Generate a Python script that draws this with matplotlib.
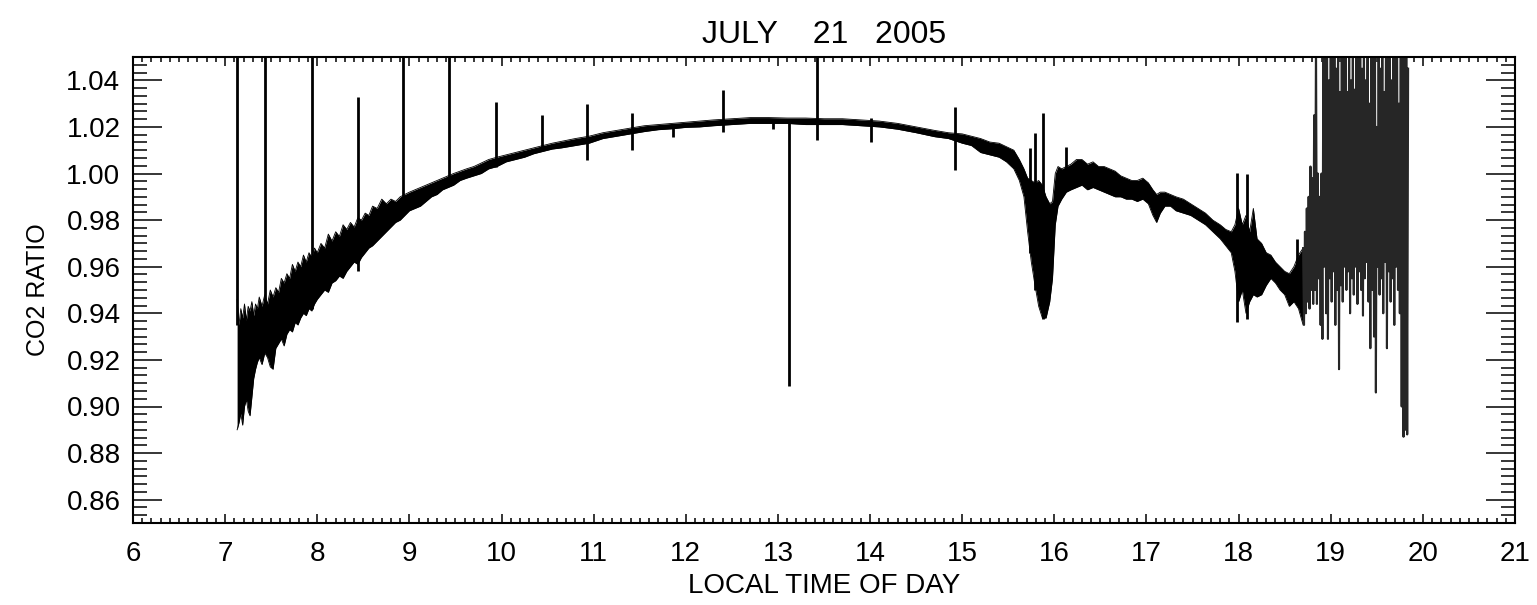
import numpy as np
import matplotlib
matplotlib.use('Agg')
import matplotlib.pyplot as plt
from matplotlib.ticker import MultipleLocator, AutoMinorLocator, FormatStrFormatter

plt.rcParams['font.family'] = ['Liberation Sans', 'DejaVu Sans']

# band of the CO2 ratio (lower / upper edge), 7:08 to 18:42
t_env = [7.13, 7.15, 7.17, 7.19, 7.21, 7.23, 7.25, 7.27, 7.29, 7.31, 7.33, 7.35, 7.37, 7.40,
         7.43, 7.46, 7.49, 7.52, 7.55, 7.58, 7.61, 7.64, 7.67, 7.70, 7.73, 7.76, 7.79, 7.82,
         7.85, 7.88, 7.91, 7.94, 7.97, 8.00, 8.04, 8.08, 8.12, 8.16, 8.20, 8.24, 8.28, 8.32,
         8.36, 8.40, 8.44, 8.48, 8.52, 8.56, 8.60, 8.65, 8.70, 8.75, 8.80, 8.85, 8.90, 8.95,
         9.00, 9.06, 9.12, 9.18, 9.24, 9.30, 9.36, 9.42, 9.48, 9.55, 9.62, 9.70, 9.78, 9.86,
         9.95, 10.05, 10.15, 10.25, 10.35, 10.45, 10.55, 10.65, 10.80, 10.95, 11.10, 11.25,
         11.40, 11.55, 11.70, 11.85, 12.00, 12.15, 12.30, 12.50, 12.70, 12.90, 13.10, 13.30,
         13.50, 13.70, 13.90, 14.10, 14.30, 14.50, 14.70, 14.85, 15.00, 15.10, 15.20, 15.30,
         15.40, 15.48, 15.56, 15.62, 15.67, 15.71, 15.75, 15.79, 15.83, 15.87, 15.91, 15.95,
         15.98, 16.01, 16.04, 16.08, 16.13, 16.18, 16.24, 16.30, 16.36, 16.42, 16.48, 16.54,
         16.60, 16.66, 16.72, 16.78, 16.84, 16.90, 16.96, 17.02, 17.07, 17.11, 17.15, 17.20,
         17.26, 17.32, 17.40, 17.48, 17.56, 17.64, 17.72, 17.80, 17.86, 17.92, 17.96, 18.00,
         18.04, 18.08, 18.12, 18.16, 18.20, 18.25, 18.30, 18.35, 18.40, 18.45, 18.50, 18.55,
         18.60, 18.65, 18.70]
lo_env = [0.890, 0.893, 0.897, 0.892, 0.900, 0.903, 0.898, 0.896, 0.904, 0.912, 0.916, 0.919, 0.921, 0.918,
          0.923, 0.921, 0.917, 0.916, 0.925, 0.927, 0.929, 0.926, 0.931, 0.933, 0.932, 0.936, 0.935, 0.938,
          0.940, 0.939, 0.942, 0.941, 0.944, 0.946, 0.948, 0.950, 0.949, 0.953, 0.954, 0.956, 0.955, 0.958,
          0.960, 0.962, 0.961, 0.964, 0.966, 0.968, 0.969, 0.971, 0.973, 0.975, 0.977, 0.979, 0.980, 0.982,
          0.984, 0.985, 0.986, 0.988, 0.990, 0.991, 0.993, 0.994, 0.995, 0.997, 0.998, 0.999, 1.000, 1.002,
          1.003, 1.005, 1.006, 1.007, 1.0085, 1.0095, 1.0105, 1.011, 1.012, 1.013, 1.015, 1.016,
          1.017, 1.018, 1.0188, 1.0192, 1.0198, 1.020, 1.0205, 1.021, 1.0215, 1.0215, 1.0215, 1.021,
          1.021, 1.021, 1.0205, 1.020, 1.019, 1.0175, 1.0158, 1.015, 1.013, 1.012, 1.009, 1.008,
          1.007, 1.005, 1.002, 0.997, 0.990, 0.975, 0.962, 0.952, 0.943, 0.938, 0.938, 0.945,
          0.955, 0.978, 0.986, 0.989, 0.992, 0.993, 0.994, 0.995, 0.993, 0.994, 0.993, 0.992,
          0.991, 0.990, 0.990, 0.989, 0.989, 0.988, 0.989, 0.987, 0.982, 0.979, 0.983, 0.986,
          0.986, 0.984, 0.983, 0.982, 0.980, 0.978, 0.975, 0.972, 0.969, 0.966, 0.958, 0.945,
          0.950, 0.940, 0.945, 0.948, 0.947, 0.948, 0.952, 0.955, 0.953, 0.950, 0.948, 0.943,
          0.945, 0.942, 0.935]
hi_env = [0.946, 0.935, 0.942, 0.938, 0.944, 0.937, 0.943, 0.941, 0.945, 0.939, 0.944, 0.942, 0.947, 0.943,
          0.948, 0.944, 0.950, 0.947, 0.951, 0.949, 0.955, 0.953, 0.957, 0.955, 0.961, 0.958, 0.962, 0.960,
          0.965, 0.962, 0.966, 0.964, 0.968, 0.966, 0.970, 0.968, 0.974, 0.971, 0.975, 0.973, 0.978, 0.976,
          0.979, 0.977, 0.981, 0.980, 0.983, 0.982, 0.986, 0.985, 0.989, 0.987, 0.989, 0.988, 0.990, 0.991,
          0.992, 0.993, 0.994, 0.995, 0.996, 0.997, 0.998, 0.999, 1.000, 1.001, 1.002, 1.003, 1.0045, 1.006,
          1.007, 1.008, 1.009, 1.010, 1.011, 1.012, 1.013, 1.0138, 1.015, 1.016, 1.0175, 1.0185,
          1.0195, 1.0205, 1.021, 1.0215, 1.022, 1.0225, 1.023, 1.0235, 1.024, 1.024, 1.0238, 1.0238,
          1.0235, 1.0235, 1.023, 1.0225, 1.0215, 1.020, 1.0185, 1.0175, 1.017, 1.016, 1.015, 1.0135,
          1.013, 1.0115, 1.010, 1.006, 1.002, 0.998, 0.997, 0.996, 0.997, 0.995, 0.990, 0.987,
          0.988, 1.000, 1.003, 1.002, 1.003, 1.004, 1.006, 1.006, 1.004, 1.005, 1.003, 1.003,
          1.002, 1.001, 0.999, 0.998, 0.997, 0.997, 0.998, 0.996, 0.993, 0.991, 0.992, 0.992,
          0.991, 0.990, 0.989, 0.987, 0.985, 0.983, 0.980, 0.978, 0.976, 0.975, 0.978, 0.985,
          0.978, 0.982, 0.975, 0.985, 0.972, 0.970, 0.966, 0.965, 0.962, 0.960, 0.958, 0.957,
          0.960, 0.965, 0.968]

# single-sample spikes (time, low end, high end)
spike_t = [7.125, 7.43, 7.94, 8.44, 8.93, 9.43, 9.94, 10.44, 10.93, 11.42, 11.86, 12.40, 12.95,
           13.12, 13.42, 14.01, 14.92, 15.74, 15.79, 15.88, 16.13, 17.98, 18.09, 18.63]
spike_lo = [0.935, 0.940, 0.942, 0.958, 0.985, 0.995, 1.003, 1.010, 1.006, 1.010, 1.0157, 1.018, 1.019,
            0.9087, 1.0144, 1.0136, 1.0016, 0.966, 0.950, 0.9377, 0.993, 0.9364, 0.9377, 0.944]
spike_hi = [1.06, 1.06, 1.06, 1.033, 1.06, 1.06, 1.0305, 1.025, 1.030, 1.026, 1.021, 1.0357, 1.023,
            1.023, 1.06, 1.024, 1.0285, 1.011, 1.0174, 1.0259, 1.0114, 1.0003, 1.000, 0.972]

# noisy stretch at dusk, 18:42 to 19:50
burst_t = [18.70, 18.71, 18.72, 18.73, 18.74, 18.75, 18.76, 18.77, 18.78, 18.79, 18.80, 18.81,
           18.82, 18.83, 18.84, 18.85, 18.86, 18.87, 18.88, 18.89, 18.90, 18.91, 18.92, 18.93,
           18.94, 18.95, 18.96, 18.97, 18.98, 18.99, 19.00, 19.01, 19.02, 19.03, 19.04, 19.05,
           19.06, 19.07, 19.08, 19.09, 19.10, 19.11, 19.12, 19.13, 19.14, 19.15, 19.16, 19.17,
           19.18, 19.19, 19.20, 19.21, 19.22, 19.23, 19.24, 19.25, 19.26, 19.27, 19.28, 19.29,
           19.30, 19.31, 19.32, 19.33, 19.34, 19.35, 19.36, 19.37, 19.38, 19.39, 19.40, 19.41,
           19.42, 19.43, 19.44, 19.45, 19.46, 19.47, 19.48, 19.49, 19.50, 19.51, 19.52, 19.53,
           19.54, 19.55, 19.56, 19.57, 19.58, 19.59, 19.60, 19.61, 19.62, 19.63, 19.64, 19.65,
           19.66, 19.67, 19.68, 19.69, 19.70, 19.71, 19.72, 19.73, 19.74, 19.75, 19.76, 19.77,
           19.78, 19.79, 19.80, 19.81, 19.82, 19.83, 19.84]
burst_v = [0.968, 0.935, 0.975, 0.940, 0.985, 0.945, 0.990, 0.942, 1.003, 0.950, 0.998, 0.944,
           1.025, 0.950, 1.06, 0.944, 1.000, 0.955, 0.990, 0.935, 1.000, 0.929, 1.06, 0.960,
           1.055, 0.940, 1.06, 0.929, 1.04, 0.955, 1.06, 0.945, 1.05, 0.958, 1.06, 0.935,
           1.045, 0.950, 1.06, 0.916, 1.035, 0.952, 1.06, 0.945, 1.05, 0.960, 1.06, 0.950,
           1.035, 0.958, 1.06, 0.940, 1.04, 0.955, 1.06, 0.948, 1.036, 0.960, 1.06, 0.944,
           1.05, 0.958, 1.06, 0.950, 1.045, 0.939, 1.06, 0.955, 1.04, 0.962, 1.06, 0.945,
           1.03, 0.925, 1.06, 0.950, 1.05, 0.930, 1.06, 0.906, 1.02, 0.960, 1.06, 0.948,
           1.045, 0.955, 1.06, 0.940, 1.035, 0.962, 1.06, 0.925, 1.05, 0.958, 1.06, 0.945,
           1.04, 0.955, 1.06, 0.935, 1.05, 0.960, 1.06, 0.950, 1.03, 0.940, 1.06, 0.900,
           1.06, 0.887, 1.055, 0.890, 1.06, 0.888, 1.045]

x_ticks = list(range(6, 22))
y_ticks = [0.86, 0.88, 0.90, 0.92, 0.94, 0.96, 0.98, 1.00, 1.02, 1.04]


fig = plt.figure(figsize=(15.37, 6.05), dpi=100)
ax = fig.add_axes([133 / 1537, 1 - 523 / 605, (1515 - 133) / 1537, (523 - 57) / 605])

ax.fill_between(t_env, lo_env, hi_env, color='black', linewidth=0)
ax.plot(t_env, lo_env, color='black', lw=0.6)
ax.plot(t_env, hi_env, color='black', lw=0.6)
ax.vlines(spike_t, spike_lo, spike_hi, color='black', lw=2.0)
ax.plot(burst_t, burst_v, color='#262626', lw=1.5)

ax.set_xlim(6, 21)
ax.set_ylim(0.85, 1.05)
ax.set_xticks(x_ticks)
ax.set_yticks(y_ticks)
ax.yaxis.set_major_formatter(FormatStrFormatter('%.2f'))
ax.xaxis.set_minor_locator(AutoMinorLocator(10))
ax.yaxis.set_minor_locator(AutoMinorLocator(6))

ax.tick_params(which='both', direction='in', top=True, right=True, width=1.1, labelsize=20)
ax.tick_params(axis='x', which='major', length=6.5, pad=13)
ax.tick_params(axis='x', which='minor', length=3.3)
ax.tick_params(axis='y', which='major', length=21, pad=9)
ax.tick_params(axis='y', which='minor', length=10)
for s in ax.spines.values():
    s.set_linewidth(1.5)

ax.set_title('JULY    21   2005', fontsize=23, pad=10)
ax.set_xlabel('LOCAL TIME OF DAY', fontsize=20, labelpad=4)
ax.set_ylabel('CO2 RATIO', fontsize=18, labelpad=12)

fig.savefig('out.png', dpi=100)
